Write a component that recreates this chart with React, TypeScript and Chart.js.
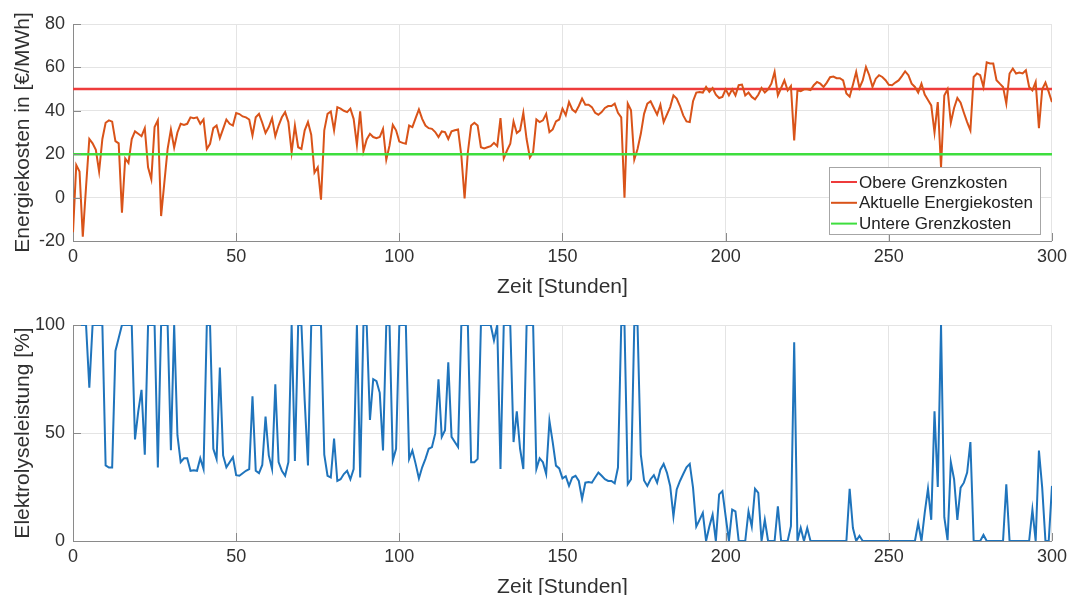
import React, { useEffect, useRef } from "react";
import { Chart, registerables } from "chart.js";

Chart.register(...registerables);

// ---------- data ----------
const hours: number[] = Array.from({ length: 301 }, (_, i) => i);

const energiekosten: number[] = [
  -16, 15, 12, -18, 5, 27, 25, 22, 12, 27,
  34.5, 35.6, 35, 26, 25, -7, 18, 16, 27, 30.5,
  29.4, 28.3, 32, 14, 8.5, 32.5, 35.6, -8.5, 7, 22.5,
  31.4, 23, 30, 34, 33.5, 34, 37, 36.6, 37, 34,
  36, 22.4, 24.8, 32, 33.2, 27.4, 31.7, 36, 34, 33.2,
  39, 38.5, 37.4, 37, 36, 28.6, 37, 38.6, 34.5, 29.8,
  32.5, 36.6, 28.3, 33.2, 37, 39.4, 34.8, 20.9, 33.2, 23.2,
  22.4, 31, 34.8, 29, 11.5, 14, -1, 31, 38.6, 39.7,
  31, 41.7, 41, 40, 39.4, 41, 36.3, 24.3, 39.7, 21.3,
  26.8, 29.4, 27.9, 27.4, 27.9, 31.7, 17.5, 24, 33.5, 31,
  25.8, 25.2, 24.8, 33.2, 32.5, 36.6, 40.6, 36.3, 33.2, 32,
  31.7, 30.2, 27.9, 30.5, 30.2, 27, 30.5, 31, 31.4, 19.4,
  -0.4, 20.9, 33.2, 34.5, 33.2, 23.2, 22.7, 23.2, 23.7, 25.2,
  23.7, 36.6, 18.1, 21.7, 24.8, 35.1, 29.8, 31, 39.1, 27,
  18.5, 20.9, 36, 34.8, 35.6, 38.6, 30.2, 31.4, 35.1, 36,
  41, 38, 44, 40.6, 39.4, 42.2, 45.6, 42.8, 42.8, 41.7,
  39.1, 38.2, 39.4, 41.3, 42.2, 42.2, 43.3, 39.1, 37, 0,
  43.3, 40.2, 17.5, 22.4, 29.4, 38.6, 43.3, 44.4, 41.3, 38.2,
  42.8, 34.8, 38.2, 41.7, 47.1, 45.6, 42.2, 37.9, 35.1, 34.8,
  44.4, 48.4, 48.7, 48.4, 51, 48.7, 50.5, 47.4, 45.9, 46.4,
  49.9, 47.1, 49.9, 47.1, 51.8, 52.1, 47.1, 48.4, 46.4, 45.3,
  47.4, 50.5, 48.4, 49.9, 52.5, 57.9, 47.1, 50.5, 54, 49.4,
  51.4, 26.3, 49.4, 49, 49.9, 49.9, 49.5, 51.8, 53.3, 52.5,
  51, 53, 55.5, 55.8, 55, 55, 54, 48, 46.5, 52,
  57.9, 50.5, 54, 60.2, 56.4, 51, 54.8, 56.4, 55.6, 54.1,
  52, 51.8, 53, 54, 56, 58.2, 56.4, 52.5, 51, 48.4,
  52.5, 47.5, 45, 42.5, 30, 44, 14, 47, 49.9, 34.5,
  41.3, 45.9, 43.7, 39.1, 34.8, 31, 55.6, 57.2, 56.4, 51,
  62.3, 61.8, 61.8, 54.1, 52.5, 51, 43.3, 57.2, 59.5, 57.2,
  57.6, 57.2, 58.7, 51, 49.4, 53.3, 32, 49.9, 53, 48.7,
  44,
];

const elektrolyseleistung: number[] = [
  100, 100, 100, 100, 100, 71, 100, 100, 100, 100,
  35, 34, 34, 88, 94, 100, 100, 100, 100, 47,
  60, 70, 40, 100, 100, 100, 34, 100, 100, 100,
  42, 100, 49, 36.5, 38.3, 38.3, 32.5, 32.8, 32.5, 38.3,
  33.3, 100, 100, 42.7, 38, 80.3, 39.6, 34.1, 36.5, 38.8,
  30.5, 30.2, 31.4, 32.5, 33.3, 67, 32.5, 31.4, 35.2, 57.6,
  39.6, 33.3, 72.5, 36.5, 32.5, 30.2, 36.5, 100, 37, 100,
  100, 65, 35, 100, 100, 100, 100, 40, 30.2, 29.4,
  47.4, 27.8, 28.6, 31, 32.5, 28.6, 33.3, 100, 29.4, 100,
  100, 56, 74.9, 74, 68.6, 41.9, 100, 100, 37.3, 42.7,
  100, 100, 100, 38, 41.9, 35.7, 28.9, 34.1, 38, 42.7,
  43.5, 49.8, 74.9, 48.2, 51.3, 82.7, 48.2, 45.8, 43.5, 100,
  100, 100, 36.5, 36.5, 38, 100, 100, 100, 100, 92.9,
  100, 33.3, 100, 100, 100, 45.8, 60, 42.7, 33.3, 100,
  100, 100, 33.3, 38.3, 36.5, 31, 55.6, 45.8, 34.9, 33.6,
  29, 30, 25.5, 29.4, 30.2, 27.8, 19.5, 27, 27.3, 27,
  29.4, 31.7, 30.2, 28.6, 27.8, 27.8, 26.7, 34, 100, 100,
  26.3, 28.6, 100, 100, 40, 28, 25.5, 28.6, 30.5, 27,
  33, 35.7, 31.7, 25.5, 11.4, 23.9, 27.8, 31, 34.1, 35.7,
  24.7, 6.7, 9.8, 13, 0, 6.7, 12.2, 0, 21.6, 23.1,
  11.4, 0, 14.5, 13.7, 0, 0, 0, 13.7, 6.7, 24.2,
  22.3, 0, 9.8, 0, 0, 0, 16.1, 0, 0, 0,
  6.9, 92, 0, 6.1, 0, 6, 0, 0, 0, 0,
  0, 0, 0, 0, 0, 0, 0, 0, 24.2, 6,
  0, 2.4, 0, 0, 0, 0, 0, 0, 0, 0,
  0, 0, 0, 0, 0, 0, 0, 0, 0, 8.3,
  0, 13, 24.2, 9.8, 60, 25, 100, 11, 0.4, 36.5,
  28.6, 9.8, 24.7, 27, 31.7, 45.8, 0, 0, 0, 2.8,
  0, 0, 0, 0, 0, 0, 26.3, 0, 0, 0,
  0, 0, 0, 0, 14.5, 0, 41.9, 24.7, 0, 0,
  25.5,
];

const obereGrenzkosten = 50;
const untereGrenzkosten = 20;

const xTicks: number[] = [0, 50, 100, 150, 200, 250, 300];
const energyTicks: number[] = [-20, 0, 20, 40, 60, 80];
const powerTicks: number[] = [0, 50, 100];

// ---------- styles ----------
const FONT = "'Liberation Sans', Arial, Helvetica, sans-serif";
const TEXT = "#303030";
const AXIS = "#8a8a8a";
const GRID = "#e4e4e4";
const RED = "#ee3b3b";
const ORANGE = "#d95319";
const GREEN = "#3ede3e";
const BLUE = "#1f74bc";

const inwardTicks = {
  id: "inwardTicks",
  afterDatasetsDraw(chart: any) {
    const { ctx, chartArea, scales } = chart;
    ctx.save();
    ctx.strokeStyle = AXIS;
    ctx.lineWidth = 1;
    ctx.beginPath();
    scales.x.ticks.forEach((t: any) => {
      const px = Math.round(scales.x.getPixelForValue(t.value)) + 0.5;
      ctx.moveTo(px, chartArea.bottom);
      ctx.lineTo(px, chartArea.bottom - 8);
    });
    scales.y.ticks.forEach((t: any) => {
      const py = Math.round(scales.y.getPixelForValue(t.value)) + 0.5;
      ctx.moveTo(chartArea.left, py);
      ctx.lineTo(chartArea.left + 8, py);
    });
    ctx.stroke();
    ctx.restore();
  },
};

const insideLegend = {
  id: "insideLegend",
  afterDraw(chart: any) {
    const { ctx, chartArea } = chart;
    const ds = chart.data.datasets;
    const boxW = 211;
    const boxH = 67;
    const right = chartArea.right - 12;
    const bottom = chartArea.bottom - 7;
    const left = right - boxW;
    const top = bottom - boxH;
    ctx.save();
    ctx.fillStyle = "#ffffff";
    ctx.fillRect(left, top, boxW, boxH);
    ctx.strokeStyle = "#a6a6a6";
    ctx.lineWidth = 1;
    ctx.strokeRect(Math.round(left) + 0.5, Math.round(top) + 0.5, boxW, boxH);
    ctx.font = `17px ${FONT}`;
    ctx.textBaseline = "middle";
    ctx.textAlign = "left";
    ds.forEach((d: any, i: number) => {
      const cy = top + 15 + i * 20.8;
      ctx.strokeStyle = d.borderColor;
      ctx.lineWidth = 2;
      ctx.beginPath();
      ctx.moveTo(left + 2, cy);
      ctx.lineTo(left + 28, cy);
      ctx.stroke();
      ctx.fillStyle = "#222222";
      ctx.fillText(d.label, left + 30, cy + 1);
    });
    ctx.restore();
  },
};

function xScale(title: string) {
  return {
    type: "linear" as const,
    min: xTicks[0],
    max: xTicks[xTicks.length - 1],
    afterBuildTicks: (s: any) => {
      s.ticks = xTicks.map((value) => ({ value }));
    },
    afterFit: (s: any) => {
      s.height = 59;
    },
    grid: { color: GRID, lineWidth: 1, drawTicks: false },
    border: { display: true, color: AXIS, width: 1 },
    ticks: {
      autoSkip: false,
      maxRotation: 0,
      padding: 5,
      color: TEXT,
      font: { family: FONT, size: 18 },
    },
    title: {
      display: true,
      text: title,
      color: TEXT,
      font: { family: FONT, size: 21 },
      padding: { top: 0, bottom: 0 },
    },
  };
}

function yScale(title: string, ticks: number[]) {
  return {
    type: "linear" as const,
    min: ticks[0],
    max: ticks[ticks.length - 1],
    afterBuildTicks: (s: any) => {
      s.ticks = ticks.map((value) => ({ value }));
    },
    afterFit: (s: any) => {
      s.width = 73;
    },
    grid: { color: GRID, lineWidth: 1, drawTicks: false },
    border: { display: true, color: AXIS, width: 1 },
    ticks: {
      autoSkip: false,
      padding: 8,
      color: TEXT,
      font: { family: FONT, size: 18 },
    },
    title: {
      display: true,
      text: title,
      color: TEXT,
      font: { family: FONT, size: 21 },
      padding: { top: 11, bottom: 0 },
    },
  };
}

export default function App() {
  const topRef = useRef<HTMLCanvasElement | null>(null);
  const bottomRef = useRef<HTMLCanvasElement | null>(null);

  useEffect(() => {
    if (!topRef.current || !bottomRef.current) return;

    const first = hours[0];
    const last = hours[hours.length - 1];

    const top = new Chart(topRef.current, {
      type: "line",
      data: {
        datasets: [
          {
            label: "Obere Grenzkosten",
            data: [
              { x: first, y: obereGrenzkosten },
              { x: last, y: obereGrenzkosten },
            ],
            borderColor: RED,
            borderWidth: 2.5,
            pointRadius: 0,
            order: 2,
          },
          {
            label: "Aktuelle Energiekosten",
            data: hours.map((h, i) => ({ x: h, y: energiekosten[i] })),
            borderColor: ORANGE,
            borderWidth: 2,
            pointRadius: 0,
            tension: 0,
            order: 1,
          },
          {
            label: "Untere Grenzkosten",
            data: [
              { x: first, y: untereGrenzkosten },
              { x: last, y: untereGrenzkosten },
            ],
            borderColor: GREEN,
            borderWidth: 2.5,
            pointRadius: 0,
            order: 0,
          },
        ],
      },
      options: {
        animation: false,
        responsive: false,
        devicePixelRatio: 1,
        layout: { padding: { left: 0, right: 19, top: 24, bottom: 0 } },
        plugins: { legend: { display: false }, tooltip: { enabled: false } },
        scales: {
          x: xScale("Zeit [Stunden]"),
          y: yScale("Energiekosten in [€/MWh]", energyTicks),
        },
      } as any,
      plugins: [inwardTicks, insideLegend],
    });

    const bottom = new Chart(bottomRef.current, {
      type: "line",
      data: {
        datasets: [
          {
            label: "Elektrolyseleistung",
            data: hours.map((h, i) => ({ x: h, y: elektrolyseleistung[i] })),
            borderColor: BLUE,
            borderWidth: 2,
            pointRadius: 0,
            tension: 0,
          },
        ],
      },
      options: {
        animation: false,
        responsive: false,
        devicePixelRatio: 1,
        layout: { padding: { left: 0, right: 19, top: 25, bottom: 0 } },
        plugins: { legend: { display: false }, tooltip: { enabled: false } },
        scales: {
          x: xScale("Zeit [Stunden]"),
          y: yScale("Elektrolyseleistung [%]", powerTicks),
        },
      } as any,
      plugins: [inwardTicks],
    });

    return () => {
      top.destroy();
      bottom.destroy();
    };
  }, []);

  return (
    <div
      style={{
        position: "fixed",
        left: 0,
        top: 0,
        width: 1072,
        height: 595,
        overflow: "hidden",
        background: "#ffffff",
      }}
    >
      <canvas
        ref={topRef}
        width={1072}
        height={300}
        style={{ position: "absolute", left: 0, top: 0, width: 1072, height: 300 }}
      />
      <canvas
        ref={bottomRef}
        width={1072}
        height={300}
        style={{ position: "absolute", left: 0, top: 300, width: 1072, height: 300 }}
      />
    </div>
  );
}
